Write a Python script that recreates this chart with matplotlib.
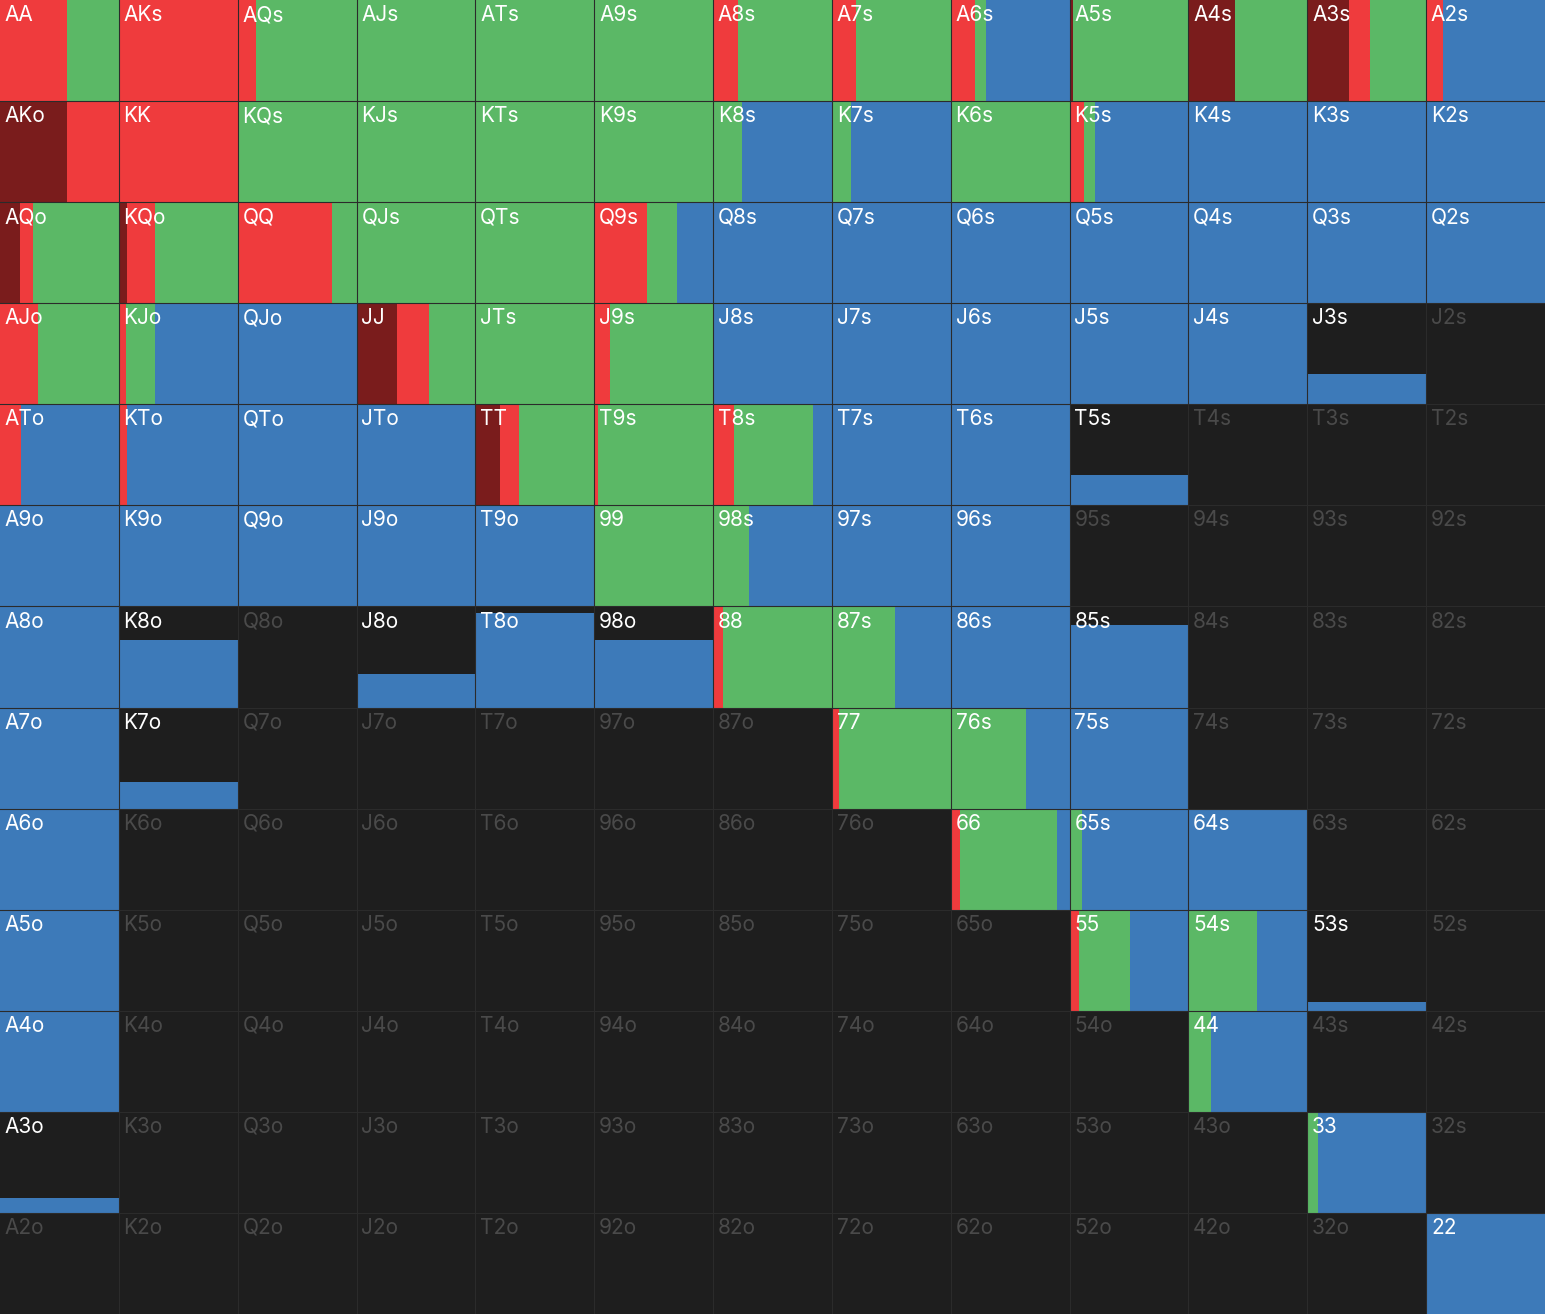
import matplotlib
matplotlib.use("Agg")
import matplotlib.pyplot as plt
from matplotlib.patches import Rectangle

ranks = ["A","K","Q","J","T","9","8","7","6","5","4","3","2"]

# frequencies per cell, rows/cols in rank order (fractions of cell width)
darkred = [
 [0,0,0,0,0,0,0,0,0,0.03,0.39,0.35,0],
 [0.56,0,0,0,0,0,0,0,0,0,0,0,0],
 [0.17,0.07,0,0,0,0,0,0,0,0,0,0,0],
 [0,0,0,0.34,0,0,0,0,0,0,0,0,0],
 [0,0,0,0,0.21,0,0,0,0,0,0,0,0],
 [0]*13,[0]*13,[0]*13,[0]*13,[0]*13,[0]*13,[0]*13,[0]*13,
]
red = [
 [0.56,1.0,0.15,0,0,0,0.21,0.2,0.2,0,0,0.18,0.14],
 [0.44,1.0,0,0,0,0,0,0,0,0.12,0,0,0],
 [0.11,0.23,0.79,0,0,0.44,0,0,0,0,0,0,0],
 [0.32,0.06,0,0.27,0,0.13,0,0,0,0,0,0,0],
 [0.18,0.07,0,0,0.16,0.03,0.18,0,0,0,0,0,0],
 [0]*13,
 [0,0,0,0,0,0,0.08,0,0,0,0,0,0],
 [0,0,0,0,0,0,0,0.06,0,0,0,0,0],
 [0,0,0,0,0,0,0,0,0.08,0,0,0,0],
 [0,0,0,0,0,0,0,0,0,0.08,0,0,0],
 [0]*13,[0]*13,[0]*13,
]
green = [
 [0.44,0,0.85,1,1,1,0.79,0.8,0.1,0.97,0.61,0.47,0],
 [0,0,1,1,1,1,0.24,0.16,1,0.09,0,0,0],
 [0.72,0.70,0.21,1,1,0.26,0,0,0,0,0,0,0],
 [0.68,0.24,0,0.39,1,0.87,0,0,0,0,0,0,0],
 [0,0,0,0,0.63,0.97,0.66,0,0,0,0,0,0],
 [0,0,0,0,0,1,0.3,0,0,0,0,0,0],
 [0,0,0,0,0,0,0.92,0.53,0,0,0,0,0],
 [0,0,0,0,0,0,0,0.94,0.63,0,0,0,0],
 [0,0,0,0,0,0,0,0,0.81,0.1,0,0,0],
 [0,0,0,0,0,0,0,0,0,0.43,0.58,0,0],
 [0,0,0,0,0,0,0,0,0,0,0.19,0,0],
 [0,0,0,0,0,0,0,0,0,0,0,0.09,0],
 [0]*13,
]
blue = [
 [0,0,0,0,0,0,0,0,0.7,0,0,0,0.86],
 [0,0,0,0,0,0,0.76,0.84,0,0.79,1,1,1],
 [0,0,0,0,0,0.30,1,1,1,1,1,1,1],
 [0,0.70,1,0,0,0,1,1,1,1,1,1,0],
 [0.82,0.93,1,1,0,0,0.16,1,1,1,0,0,0],
 [1,1,1,1,1,0,0.7,1,1,0,0,0,0],
 [1,1,0,1,1,1,0,0.47,1,1,0,0,0],
 [1,1,0,0,0,0,0,0,0.37,1,0,0,0],
 [1,0,0,0,0,0,0,0,0.11,0.9,1,0,0],
 [1,0,0,0,0,0,0,0,0,0.49,0.42,1,0],
 [1,0,0,0,0,0,0,0,0,0,0.81,0,0],
 [1,0,0,0,0,0,0,0,0,0,0,0.91,0],
 [0,0,0,0,0,0,0,0,0,0,0,0,1],
]
# fraction of the cell height that is filled (from the bottom)
weight = [
 [1]*13,
 [1]*13,
 [1]*13,
 [1,1,1,1,1,1,1,1,1,1,1,0.3,0],
 [1,1,1,1,1,1,1,1,1,0.3,0,0,0],
 [1,1,1,1,1,1,1,1,1,0,0,0,0],
 [1,0.67,0,0.33,0.94,0.67,1,1,1,0.82,0,0,0],
 [1,0.26,0,0,0,0,0,1,1,1,0,0,0],
 [1,0,0,0,0,0,0,0,1,1,1,0,0],
 [1,0,0,0,0,0,0,0,0,1,1,0.09,0],
 [1,0,0,0,0,0,0,0,0,0,1,0,0],
 [0.15,0,0,0,0,0,0,0,0,0,0,1,0],
 [0,0,0,0,0,0,0,0,0,0,0,0,1],
]

colors = ["#7a1c1c", "#ef3b3d", "#5bb866", "#3d7ab9"]
bg = "#1e1e1e"

fig = plt.figure(figsize=(15.45, 13.14), dpi=100)
fig.patch.set_facecolor("white")
ax = fig.add_axes([0, 0, 1, 1])
ax.set_xlim(0, 13)
ax.set_ylim(13, 0)
ax.axis("off")
ax.add_patch(Rectangle((0, 0), 13, 13, facecolor=bg, edgecolor="none"))

for r in range(13):
    for c in range(13):
        w = weight[r][c]
        x = c
        if w > 0:
            for arr, col in zip([darkred, red, green, blue], colors):
                f = arr[r][c]
                if f > 0:
                    ax.add_patch(Rectangle((x, r + 1 - w), f, w, facecolor=col,
                                           edgecolor="none"))
                    x += f
        if r == c:
            lab = ranks[r] * 2
        elif c > r:
            lab = ranks[r] + ranks[c] + "s"
        else:
            lab = ranks[c] + ranks[r] + "o"
        tc = "white" if w > 0 else "#4a4a4a"
        ax.text(c + 0.04, r + 0.05, lab, color=tc, fontsize=15,
                family=["Inter", "DejaVu Sans"], ha="left", va="top")

for i in range(1, 13):
    ax.plot([i, i], [0, 13], color="#2b2b2b", lw=0.8)
    ax.plot([0, 13], [i, i], color="#2b2b2b", lw=0.8)

fig.savefig("out.png", dpi=100)
